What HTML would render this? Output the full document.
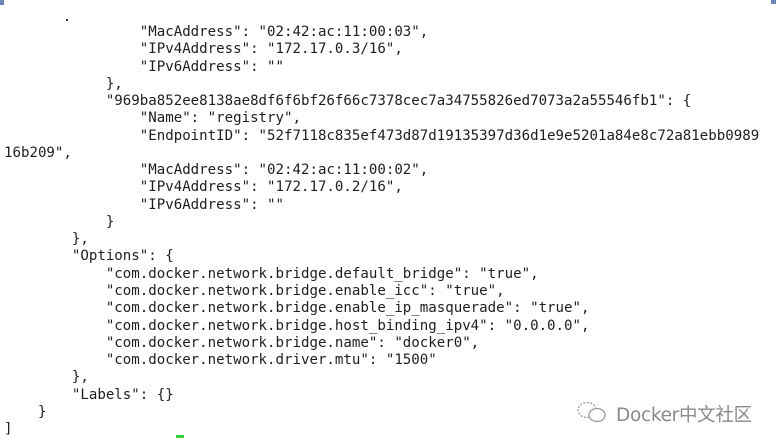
<!DOCTYPE html>
<html><head><meta charset="utf-8">
<style>
html,body{margin:0;padding:0;background:#fff;width:778px;height:446px;overflow:hidden;position:relative}
pre{position:absolute;left:4px;top:24px;margin:0;font-family:"DejaVu Sans Mono","Liberation Mono",monospace;font-size:14.1px;line-height:17.26px;color:#1e1e1e;white-space:pre}
.wm{position:absolute;left:616px;top:401px;font-family:"DejaVu Sans","Liberation Sans","Noto Sans CJK SC",sans-serif;font-size:18.5px;color:#8a8a8a;letter-spacing:-0.3px}
</style></head><body>
<div style="position:absolute;left:0;top:0;width:4px;height:5px;background:#6a86b8"></div>
<div style="position:absolute;left:771px;top:0;width:5px;height:4px;background:#6a86b8"></div>
<div style="position:absolute;left:66px;top:19px;width:2px;height:2px;background:#333"></div>
<pre>                "MacAddress": "02:42:ac:11:00:03",
                "IPv4Address": "172.17.0.3/16",
                "IPv6Address": ""
            },
            "969ba852ee8138ae8df6f6bf26f66c7378cec7a34755826ed7073a2a55546fb1": {
                "Name": "registry",
                "EndpointID": "52f7118c835ef473d87d19135397d36d1e9e5201a84e8c72a81ebb0989
16b209",
                "MacAddress": "02:42:ac:11:00:02",
                "IPv4Address": "172.17.0.2/16",
                "IPv6Address": ""
            }
        },
        "Options": {
            "com.docker.network.bridge.default_bridge": "true",
            "com.docker.network.bridge.enable_icc": "true",
            "com.docker.network.bridge.enable_ip_masquerade": "true",
            "com.docker.network.bridge.host_binding_ipv4": "0.0.0.0",
            "com.docker.network.bridge.name": "docker0",
            "com.docker.network.driver.mtu": "1500"
        },
        "Labels": {}
    }
]</pre>
<div style="position:absolute;left:176px;top:435px;width:8px;height:3px;background:#3ad23a"></div>
<svg style="position:absolute;left:576px;top:400px" width="32" height="26" viewBox="0 0 32 26">
<ellipse cx="11" cy="10" rx="9" ry="7.5" fill="none" stroke="#999" stroke-width="1.3" stroke-dasharray="2 1.5"/>
<ellipse cx="21" cy="15" rx="8" ry="6.5" fill="#fff" stroke="#999" stroke-width="1.3"/>
</svg>
<div class="wm">Docker中文社区</div>
</body></html>
